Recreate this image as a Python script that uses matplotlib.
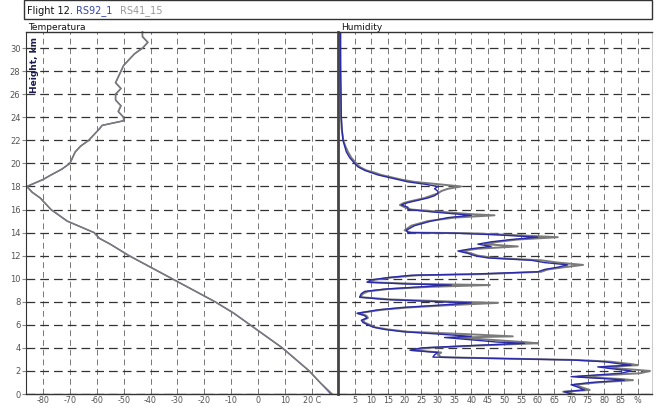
import matplotlib.pyplot as plt
import matplotlib.patches as mpatches

# Temperature profile, degC vs height (km)
temp_height = [0, 1, 2, 3, 4, 5, 6, 7, 8, 9, 10, 11, 12, 13, 13.5, 14, 14.5,
               15, 15.5, 16, 16.5, 17, 17.5, 18, 18.3, 18.6, 19, 19.5, 20,
               20.5, 21, 21.5, 22, 22.5, 23, 23.3, 23.7, 24, 24.5, 25, 25.5,
               26, 26.5, 27, 27.5, 28, 28.5, 29, 29.5, 30, 30.5, 31, 31.4]
temp_rs92 = [27, 23, 19, 14, 9, 3, -3, -9, -16, -24, -32, -40, -48, -55, -59,
             -61, -66, -71, -74, -77, -79, -81, -84, -86, -83, -80, -77, -73,
             -70, -69, -68, -66, -63, -61, -59, -58, -50, -50, -52, -51, -53,
             -53, -51, -53, -52, -51, -50, -48, -46, -43, -41, -43, -43]
temp_rs41 = [27.5, 23, 19, 14, 9, 3, -3, -9, -16, -24, -32, -40, -48, -55, -59,
             -61, -66, -71, -74, -77, -79, -81, -84, -86, -83, -80, -77, -73,
             -70, -69, -68, -66, -63, -61, -59, -58, -50, -50, -52, -51, -53,
             -53, -51, -53, -52, -51, -50, -48, -46, -43, -41, -43, -43]

# Relative humidity (%) vs height (km)
rh_height = [31.4, 30, 28, 26, 24, 23, 22, 21.5, 21, 20.5, 20, 19.7, 19.4,
             19.2, 19.0, 18.8, 18.6, 18.4, 18.2, 18.0, 17.8, 17.6, 17.4, 17.2,
             17.0, 16.8, 16.6, 16.4, 16.2, 16.0, 15.8, 15.6, 15.5, 15.3, 15.0,
             14.6, 14.2, 14.0, 13.95, 13.8, 13.6, 13.4, 13.2, 13.0, 12.8, 12.6,
             12.4, 12.2, 12.0, 11.8, 11.6, 11.4, 11.2, 11.0, 10.8, 10.6, 10.4,
             10.3, 10.1, 9.9, 9.7, 9.55, 9.45, 9.3, 9.1, 8.9, 8.7, 8.4, 8.2,
             8.0, 7.9, 7.7, 7.5, 7.3, 7.0, 6.8, 6.6, 6.4, 6.2, 6.0, 5.8, 5.6,
             5.4, 5.2, 5.0, 4.9, 4.7, 4.5, 4.4, 4.2, 4.0, 3.8, 3.6, 3.4, 3.2,
             3.1, 2.95, 2.8, 2.6, 2.5, 2.35, 2.2, 2.0, 1.8, 1.6, 1.5, 1.3, 1.2,
             1.0, 0.8, 0.6, 0.35, 0.2, 0.0]
rh_rs92 = [0.8, 0.8, 0.8, 0.9, 1.0, 1.2, 1.5, 2, 2.5, 3.5, 5, 6, 8,
           10, 12, 15, 18, 21, 26, 30, 29, 30, 30, 29,
           27, 24, 21, 19, 21, 21, 28, 36, 40, 33, 28,
           23, 20.5, 21, 35, 48, 60, 52, 46, 42, 46, 40,
           36, 39, 41, 45, 58, 62, 69, 66, 62, 60, 40,
           22, 15, 10, 8.7, 20, 34, 25, 14, 8, 7, 6.5, 14,
           30, 40, 30, 19, 12, 5.7, 8, 8.7, 7, 7.5, 9, 10.5, 14,
           19.5, 30, 40, 32, 40, 48, 56, 40, 25, 21.6, 30, 29, 28.5,
           45, 70, 80, 85, 88, 78, 82, 88, 85, 75, 70, 82, 86,
           76, 70, 72, 74, 68, 70]
rh_rs41 = [0.6, 0.6, 0.7, 0.8, 0.9, 1.1, 1.6, 2.2, 3, 4, 5.5, 6.5, 8.5,
           11, 13, 16, 19, 23, 30, 37, 33, 31, 30, 28,
           26, 23, 20, 18.6, 20, 22, 31, 40, 47, 35, 27,
           22, 20, 22, 39, 52, 66, 54, 48, 44, 54, 42,
           37, 40, 42, 47, 61, 66, 73.6, 68, 63, 61, 44,
           24, 16, 11, 9, 24, 45.6, 28, 15, 9, 7.5, 6.6, 16,
           36, 48, 33, 21, 13, 6, 8.5, 9, 7.5, 8, 9.5, 11, 15,
           21, 38, 52.5, 36, 46, 56, 60, 42, 27, 22, 31, 30, 31,
           45.6, 72, 82, 88, 90, 80, 85, 93.7, 90.7, 78, 72, 85, 88.6,
           78, 71, 73, 75.6, 67.6, 71]

height_ticks = list(range(0, 31, 2))
temp_ticks = list(range(-80, 21, 10))
temp_labels = [str(t) for t in temp_ticks[:-1]] + ["20 C"]
rh_ticks = list(range(5, 91, 5))
rh_labels = [str(t) for t in rh_ticks[:-1]] + ["%"]

BLUE = "#2a2aa8"
GREY = "#7a7a7a"

fig = plt.figure(figsize=(6.56, 4.07), dpi=100)
W, H = 656, 407


def fig_box(x0, y0, x1, y1):
    return [x0 / W, 1 - y1 / H, (x1 - x0) / W, (y1 - y0) / H]


ax_t = fig.add_axes(fig_box(26, 32, 338, 394))
ax_h = fig.add_axes(fig_box(338, 32, 652, 394))

for ax in (ax_t, ax_h):
    ax.set_ylim(0, 31.4)
    ax.set_yticks(height_ticks)
    ax.xaxis.grid(True, color="#777777", linestyle=(0, (6, 4)), linewidth=0.7)
    ax.yaxis.grid(True, color="#333333", linestyle=(0, (7, 4)), linewidth=0.9)
    ax.set_axisbelow(True)
    ax.tick_params(axis="x", length=0, labelsize=5.8, labelcolor="#555555", pad=1.5)
    ax.tick_params(axis="y", length=3, color="#888888", labelsize=6,
                   labelcolor="#555555", pad=1)
    for side in ("top", "bottom"):
        ax.spines[side].set_color("#333333")
        ax.spines[side].set_linewidth(1.0)
    ax.spines["right"].set_color("#cccccc")

ax_t.spines["left"].set_color("#333333")
ax_h.spines["left"].set_color("#444444")
ax_h.spines["left"].set_linewidth(2.0)
ax_t.spines["right"].set_visible(False)

# temperature panel
ax_t.set_xlim(-86.3, 29.7)
ax_t.set_xticks(temp_ticks)
ax_t.set_xticklabels(temp_labels)
ax_t.plot(temp_rs92, temp_height, color=BLUE, linewidth=0.8, clip_on=False)
ax_t.plot(temp_rs41, temp_height, color=GREY, linewidth=1.2, clip_on=False)
ax_t.text(0.012, 0.985, "Height, km", transform=ax_t.transAxes, rotation=90,
          ha="left", va="top", fontsize=6.5, color="#1a1a50", fontweight="bold")

# humidity panel
ax_h.set_xlim(0, 94.3)
ax_h.set_xticks(rh_ticks)
ax_h.set_xticklabels(rh_labels)
ax_h.tick_params(axis="y", left=False, labelleft=False)
ax_h.plot(rh_rs41, rh_height, color=GREY, linewidth=1.4)
ax_h.plot(rh_rs92, rh_height, color=BLUE, linewidth=1.0)

# panel titles
fig.text(28 / W, 1 - 27 / H, "Temperatura", fontsize=6.5, color="#111111",
         va="center", ha="left")
fig.text(341 / W, 1 - 27 / H, "Humidity", fontsize=6.5, color="#111111",
         va="center", ha="left")

# header box with flight and sonde names
fig.add_artist(mpatches.Rectangle((24 / W, 1 - 19 / H), 628 / W, 19 / H,
                                  transform=fig.transFigure, fill=False,
                                  edgecolor="#333333", linewidth=1.0))
fig.text(27 / W, 1 - 11 / H, "Flight 12.", fontsize=7, color="#111111",
         va="center", ha="left")
fig.text(76 / W, 1 - 11 / H, "RS92_1", fontsize=7, color="#3344aa",
         va="center", ha="left")
fig.text(120 / W, 1 - 11 / H, "RS41_15", fontsize=7, color="#999999",
         va="center", ha="left")

fig.savefig("out.png", dpi=100)
